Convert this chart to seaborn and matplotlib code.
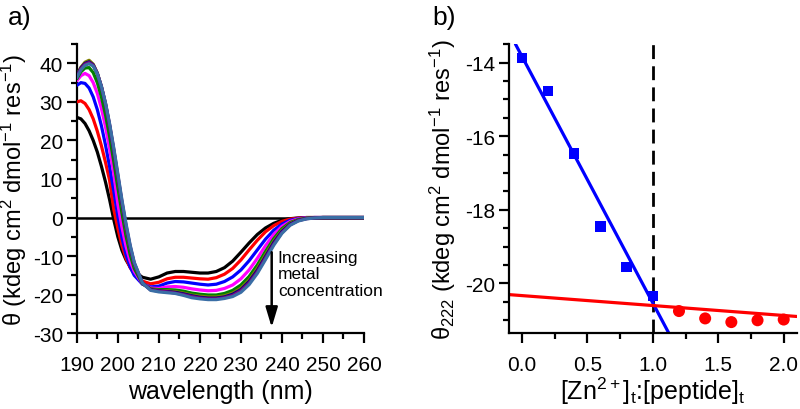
import numpy as np
import pandas as pd
import matplotlib
matplotlib.use("Agg")
import matplotlib.pyplot as plt
from matplotlib.ticker import MultipleLocator, FixedLocator, FormatStrFormatter
import seaborn as sns

# ---------------- data ----------------
wavelength = [190, 191, 192, 193, 194, 195, 196, 197, 198, 199, 200, 201, 202, 203, 204,
              206, 208, 210, 212, 214, 216, 218, 220, 222, 224, 226, 228, 230, 232, 234,
              236, 238, 240, 242, 244, 246, 248, 250, 255, 260]

cd_black = [26.0, 25.6, 24.4, 22.5, 20.0, 17.0, 13.3, 9.2, 4.6, -0.5, -5.0, -8.5, -11.0, -12.8, -14.0,
            -15.5, -16.0, -15.4, -14.4, -14.0, -14.0, -14.2, -14.4, -14.4, -14.0, -13.0, -11.3, -9.0, -6.6, -4.4,
            -2.7, -1.5, -0.7, -0.3, -0.1, 0.0, 0.0, 0.0, 0.0, 0.0]
cd_red = [30.0, 30.3, 29.6, 28.0, 25.6, 22.4, 18.6, 14.3, 9.6, 2.2, -2.8, -7.2, -10.6, -13.0, -14.6,
          -16.5, -17.2, -16.8, -15.9, -15.5, -15.5, -15.7, -15.9, -16.0, -15.6, -14.7, -13.2, -11.0, -8.4, -5.9,
          -3.7, -2.1, -1.0, -0.4, -0.15, 0.0, 0.0, 0.0, 0.0, 0.0]
cd_blue = [34.3, 35.0, 34.8, 33.6, 31.3, 28.0, 23.8, 18.8, 13.2, 6.9, 0.3, -5.2, -9.6, -12.8, -15.0,
           -17.3, -18.0, -17.8, -17.0, -16.6, -16.7, -17.0, -17.3, -17.5, -17.3, -16.6, -15.4, -13.6, -11.2, -8.4,
           -5.6, -3.3, -1.7, -0.7, -0.25, -0.08, 0.0, 0.0, 0.0, 0.0]
cd_magenta = [35.5, 36.8, 37.4, 36.8, 35.0, 32.2, 28.3, 23.5, 17.8, 11.5, 3.5, -2.5, -7.5, -11.3, -14.0,
              -17.2, -18.3, -18.4, -18.0, -17.9, -18.1, -18.5, -18.8, -19.0, -18.9, -18.4, -17.5, -15.9, -13.6, -10.6,
              -7.3, -4.4, -2.3, -1.0, -0.35, -0.1, 0.0, 0.0, 0.0, 0.0]
cd_green = [36.0, 37.8, 38.8, 38.9, 37.6, 35.0, 31.3, 26.6, 21.0, 14.6, 7.8, 1.2, -4.8, -9.6, -13.2,
            -17.2, -18.5, -18.7, -18.7, -18.8, -19.1, -19.6, -19.9, -20.1, -20.1, -19.7, -18.9, -17.5, -15.3, -12.3,
            -8.8, -5.5, -2.9, -1.3, -0.5, -0.15, -0.05, 0.0, 0.0, 0.0]
cd_olive = [37.0, 39.0, 40.3, 40.8, 39.8, 37.5, 33.9, 29.3, 23.6, 17.2, 10.3, 3.4, -2.8, -8.0, -12.2,
            -17.0, -18.6, -18.9, -19.0, -19.2, -19.6, -20.1, -20.4, -20.6, -20.6, -20.3, -19.6, -18.3, -16.2, -13.2,
            -9.6, -6.1, -3.3, -1.5, -0.6, -0.2, -0.05, 0.0, 0.0, 0.0]
cd_navy = [36.8, 38.8, 40.0, 40.4, 39.6, 37.4, 33.9, 29.4, 23.8, 17.4, 10.6, 3.8, -2.4, -7.7, -12.0,
           -17.0, -18.7, -19.0, -19.2, -19.4, -19.8, -20.3, -20.7, -20.9, -20.9, -20.6, -19.9, -18.7, -16.6, -13.7,
           -10.1, -6.5, -3.6, -1.7, -0.7, -0.25, -0.08, 0.0, 0.0, 0.0]
cd_purple = [36.6, 38.6, 39.8, 40.2, 39.5, 37.4, 34.0, 29.6, 24.1, 17.8, 11.0, 4.2, -2.0, -7.4, -11.8,
             -17.0, -18.8, -19.1, -19.3, -19.6, -20.0, -20.5, -20.9, -21.1, -21.1, -20.8, -20.2, -19.0, -17.0, -14.1,
             -10.5, -6.9, -3.9, -1.9, -0.8, -0.3, -0.1, 0.0, 0.0, 0.0]
cd_steel = [36.3, 38.3, 39.5, 39.9, 39.3, 37.3, 34.0, 29.7, 24.3, 18.1, 11.4, 4.6, -1.6, -7.1, -11.6,
            -17.0, -18.9, -19.3, -19.5, -19.7, -20.2, -20.8, -21.1, -21.3, -21.3, -21.0, -20.5, -19.4, -17.4, -14.5,
            -10.9, -7.2, -4.1, -2.0, -0.9, -0.35, -0.1, 0.0, 0.0, 0.0]

spectra_names = ["s0", "s1", "s2", "s3", "s4", "s5", "s6", "s7", "s8"]
spectra_colors = ["#000000", "#ff0000", "#0000ff", "#ff00ff", "#008000",
                  "#808000", "#000080", "#800080", "#3a6ea5"]

ratio_below = [0.0, 0.2, 0.4, 0.6, 0.8, 1.0]
theta_below = [-13.88, -14.77, -16.47, -18.45, -19.55, -20.35]
ratio_above = [1.2, 1.4, 1.6, 1.8, 2.0]
theta_above = [-20.75, -20.95, -21.05, -21.0, -20.98]

fit_blue = (-13.83, -6.7)    # intercept, slope
fit_red = (-20.33, -0.27)
equivalence = 1.0

# ---------------- style ----------------
sns.set_theme(style="ticks")
plt.rcParams["font.family"] = ["Liberation Sans", "DejaVu Sans"]
plt.rcParams["mathtext.fontset"] = "custom"
plt.rcParams["mathtext.rm"] = "Liberation Sans"
plt.rcParams["mathtext.it"] = "Liberation Sans"
plt.rcParams["mathtext.default"] = "regular"
plt.rcParams["axes.unicode_minus"] = False
plt.rcParams["text.color"] = "black"
plt.rcParams["axes.labelcolor"] = "black"
plt.rcParams["xtick.color"] = "black"
plt.rcParams["ytick.color"] = "black"

fig = plt.figure(figsize=(8.0, 4.1), dpi=100)
axA = fig.add_axes([0.096, 0.185, 0.359, 0.705])
axB = fig.add_axes([0.636, 0.185, 0.360, 0.705])

TICK_FS = 15
XLABEL_FS = 18
YLABEL_FS = 17


def style_axes(ax):
    for side in ("top", "right"):
        ax.spines[side].set_visible(False)
    for side in ("left", "bottom"):
        ax.spines[side].set_linewidth(1.6)
        ax.spines[side].set_color("black")
    ax.tick_params(which="major", direction="out", length=7, width=1.6,
                   labelsize=TICK_FS, colors="black", labelcolor="black", pad=3)
    ax.tick_params(which="minor", direction="out", length=4.5, width=1.6, colors="black")
    ax.tick_params(axis="x", which="major", pad=9)
    ax.set_facecolor("white")


# ---------------- panel a ----------------
cols = [cd_black, cd_red, cd_blue, cd_magenta, cd_green, cd_olive, cd_navy, cd_purple, cd_steel]
frames = []
for name, vals in zip(spectra_names, cols):
    frames.append(pd.DataFrame({"wl": wavelength, "theta": vals, "sample": name}))
df_cd = pd.concat(frames, ignore_index=True)

axA.axhline(0, color="black", lw=1.8, zorder=1)
sns.lineplot(data=df_cd, x="wl", y="theta", hue="sample", hue_order=spectra_names,
             palette=spectra_colors, sort=False, estimator=None, legend=False,
             lw=2.3, ax=axA, zorder=3)
axA.set_xlim(190, 260)
axA.set_ylim(-30, 45)
axA.xaxis.set_major_locator(MultipleLocator(10))
axA.xaxis.set_minor_locator(MultipleLocator(5))
axA.yaxis.set_major_locator(FixedLocator([-30, -20, -10, 0, 10, 20, 30, 40]))
axA.yaxis.set_minor_locator(MultipleLocator(5))
style_axes(axA)
axA.set_xlabel("wavelength (nm)", fontsize=XLABEL_FS, labelpad=3)
axA.set_ylabel(r"θ (kdeg cm$^{2}$ dmol$^{-1}$ res$^{-1}$)", fontsize=YLABEL_FS)
axA.yaxis.set_label_coords(-0.165, 0.5)

axA.annotate("", xy=(237.5, -28.5), xytext=(237.5, -9.0),
             arrowprops=dict(arrowstyle="-|>,head_width=0.3,head_length=1.0",
                             color="black", lw=1.8, shrinkA=0, shrinkB=0))
axA.text(239.0, -8.3, "Increasing\nmetal\nconcentration", fontsize=12.5,
         ha="left", va="top", linespacing=1.15)

# ---------------- panel b ----------------
df_below = pd.DataFrame({"ratio": ratio_below, "theta": theta_below})
df_above = pd.DataFrame({"ratio": ratio_above, "theta": theta_above})

axB.axvline(equivalence, color="black", lw=2.0, ls=(0, (5, 2.6)), zorder=1)
axB.axline((0, fit_blue[0]), slope=fit_blue[1], color="#0000ff", lw=2.3, zorder=2)
axB.axline((0, fit_red[0]), slope=fit_red[1], color="#ff0000", lw=2.3, zorder=2)
sns.scatterplot(data=df_below, x="ratio", y="theta", marker="s", color="#0000ff",
                s=55, edgecolor="none", ax=axB, zorder=4)
sns.scatterplot(data=df_above, x="ratio", y="theta", marker="o", color="#ff0000",
                s=75, edgecolor="none", ax=axB, zorder=4)
axB.set_xlim(-0.1, 2.1)
axB.set_ylim(-21.35, -13.5)
axB.xaxis.set_major_locator(MultipleLocator(0.5))
axB.xaxis.set_minor_locator(MultipleLocator(0.25))
axB.xaxis.set_major_formatter(FormatStrFormatter("%.1f"))
axB.yaxis.set_major_locator(FixedLocator([-20, -18, -16, -14]))
axB.yaxis.set_minor_locator(MultipleLocator(0.5))
style_axes(axB)
axB.set_xlabel(r"[Zn$^{2+}$]$_{t}$:[peptide]$_{t}$", fontsize=XLABEL_FS, labelpad=0)
axB.set_ylabel(r"θ$_{222}$ (kdeg cm$^{2}$ dmol$^{-1}$ res$^{-1}$)", fontsize=YLABEL_FS, labelpad=5)

fig.text(0.010, 0.985, "a)", fontsize=19, ha="left", va="top")
fig.text(0.540, 0.985, "b)", fontsize=19, ha="left", va="top")

fig.savefig("out.png", dpi=100, facecolor="white")
